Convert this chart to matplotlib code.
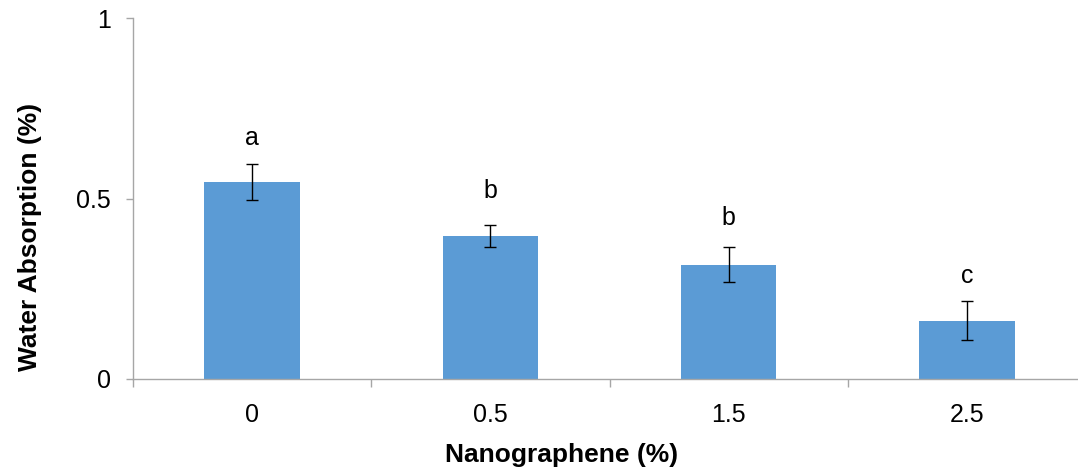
"""Water absorption vs nanographene content, bar chart with error bars."""

import matplotlib.pyplot as plt

plt.rcParams["font.family"] = ["Liberation Sans", "DejaVu Sans"]

categories = ["0", "0.5", "1.5", "2.5"]
absorption = [0.546, 0.396, 0.317, 0.162]
errors = [0.050, 0.030, 0.048, 0.055]
group_letters = ["a", "b", "b", "c"]
letter_heights = [0.648, 0.501, 0.427, 0.266]

bar_color = "#5B9BD5"
axis_color = "#A6A6A6"

fig = plt.figure(figsize=(10.78, 4.69), dpi=100)
ax = fig.add_axes([0.1234, 0.1919, 0.884, 0.7697])

x = range(len(categories))
ax.bar(x, absorption, width=0.40, color=bar_color, zorder=2)
ax.errorbar(x, absorption, yerr=errors, fmt="none", ecolor="black",
            elinewidth=1.0, capsize=4.3, capthick=1.0, zorder=3)

for xi, letter, h in zip(x, group_letters, letter_heights):
    ax.text(xi, h, letter, ha="center", va="baseline", fontsize=18)

ax.set_xlim(-0.5, len(categories) - 0.5)
ax.set_ylim(0, 1)

ax.set_xticks(list(x))
ax.set_xticklabels(categories, fontsize=18)
ax.set_xticks([i + 0.5 for i in range(-1, len(categories))], minor=True)
ax.tick_params(axis="x", which="major", length=0, pad=17)
ax.tick_params(axis="x", which="minor", length=6, width=1.0, color=axis_color)

ax.set_yticks([0, 0.5, 1])
ax.set_yticklabels(["0", "0.5", "1"], fontsize=18)
ax.tick_params(axis="y", length=5, width=1.0, color=axis_color, pad=11)

for side in ("top", "right"):
    ax.spines[side].set_visible(False)
for side in ("left", "bottom"):
    ax.spines[side].set_color(axis_color)
    ax.spines[side].set_linewidth(1.0)

ax.set_xlabel("Nanographene (%)", fontsize=19, fontweight="bold")
ax.xaxis.set_label_coords(0.450, -0.177)
ax.set_ylabel("Water Absorption (%)", fontsize=19, fontweight="bold")
ax.yaxis.set_label_coords(-0.0955, 0.393)

fig.savefig("out.png", dpi=100)
